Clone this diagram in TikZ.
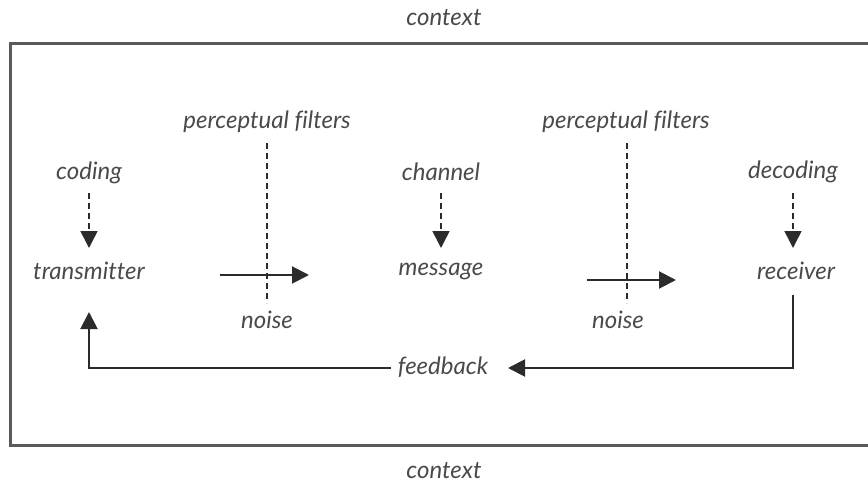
\documentclass[tikz,border=0pt]{standalone}
\usepackage{fontspec}
\setmainfont{Lato}[Ligatures=NoCommon]
\usetikzlibrary{arrows.meta}
\definecolor{ink}{HTML}{2B2B2B}
\definecolor{txt}{HTML}{4A4A4A}
\definecolor{frame}{HTML}{5A5A5A}
\tikzset{
  lbl/.style={inner sep=0pt, text=txt, font=\fontsize{24}{28}\selectfont\itshape},
  tip/.style={-{Triangle[length=17pt,width=17pt]}},
  flow/.style={tip, draw=ink, line width=2pt},
  hint/.style={tip, draw=ink, line width=1.6pt, dash pattern=on 6pt off 4pt},
  filter/.style={draw=ink, line width=1.4pt, dash pattern=on 6pt off 4pt},
}
\begin{document}
\begin{tikzpicture}[x=1pt,y=-1pt]
\useasboundingbox (0,0) rectangle (868,484);
% surrounding context frame, open on the right
\draw[frame, line width=3pt] (870,44) -- (10,44) -- (10,445) -- (870,445);
\node[lbl] (ctxtop) at (444,18) {context};
\node[lbl] (ctxbot) at (444,471) {context};

% main chain
\node[lbl] (coding) at (89,173) {coding};
\node[lbl] (trans) at (89,271) {transmitter};
\node[lbl] (channel) at (441,172) {channel};
\node[lbl] (msg) at (441,272) {message};
\node[lbl] (decoding) at (793,172) {decoding};
\node[lbl] (recv) at (796,271) {receiver};

% perceptual filters and noise
\node[lbl] (pf1) at (267,122) {perceptual filters};
\node[lbl] (pf2) at (626,122) {perceptual filters};
\node[lbl] (noise1) at (267,320) {noise};
\node[lbl] (noise2) at (618,320) {noise};
\coordinate (f1top) at (267,143);
\coordinate (f1bot) at (267,303);
\coordinate (f2top) at (627,143);
\coordinate (f2bot) at (627,303);
\draw[filter] (f1top) -- (f1bot);
\draw[filter] (f2top) -- (f2bot);

% dashed influences
\draw[hint] (89,193) -- (89,248);
\draw[hint] (441,193) -- (441,248);
\draw[hint] (793,193) -- (793,248);

% transmission arrows
\coordinate (a1s) at (220,275);
\coordinate (a1e) at (309,275);
\coordinate (a2s) at (587,280);
\coordinate (a2e) at (676,280);
\draw[flow] (a1s) -- (a1e);
\draw[flow] (a2s) -- (a2e);

% feedback loop
\node[lbl] (fb) at (443,367) {feedback};
\draw[flow] (793,295) -- (793,368) -- (508,368);
\draw[flow] (391,368) -- (89,368) -- (89,312);
\end{tikzpicture}
\end{document}
